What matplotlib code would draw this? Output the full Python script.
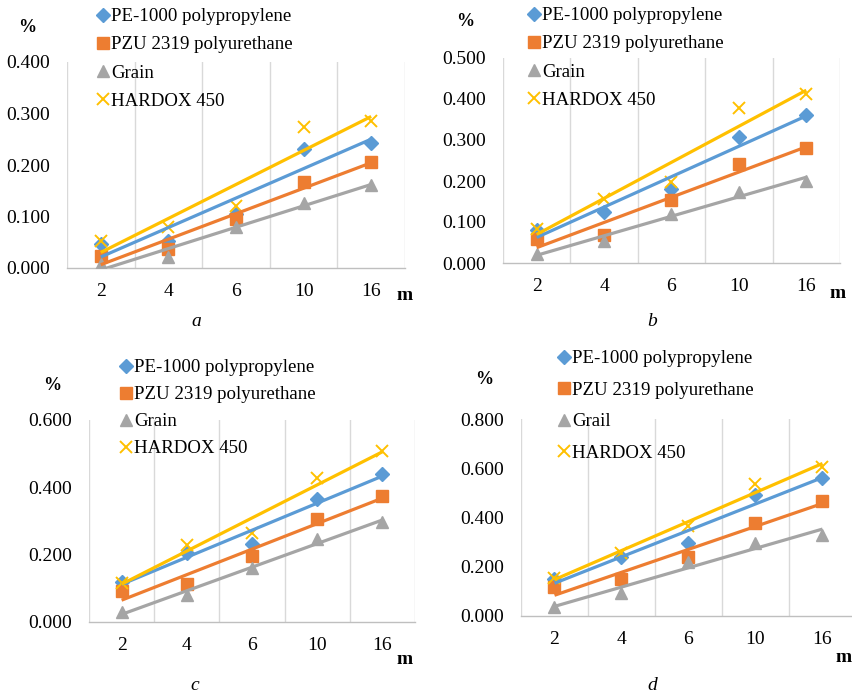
import numpy as np
import matplotlib
matplotlib.use("Agg")
import matplotlib.pyplot as plt
from matplotlib.lines import Line2D
from matplotlib import font_manager

plt.rcParams['font.family'] = 'serif'
plt.rcParams['font.serif'] = ['Liberation Serif', 'Times New Roman', 'DejaVu Serif']

categories = ["2", "4", "6", "10", "16"]
series_names = ["PE-1000 polypropylene", "PZU 2319 polyurethane", "Grain", "HARDOX 450"]
series_names_d = ["PE-1000 polypropylene", "PZU 2319 polyurethane", "Grail", "HARDOX 450"]

# panel a
a_pe = [0.047, 0.052, 0.105, 0.232, 0.243]
a_pzu = [0.023, 0.036, 0.096, 0.167, 0.205]
a_grain = [0.007, 0.021, 0.080, 0.126, 0.162]
a_hardox = [0.052, 0.080, 0.120, 0.274, 0.285]
# panel b
b_pe = [0.081, 0.124, 0.181, 0.307, 0.360]
b_pzu = [0.059, 0.068, 0.154, 0.241, 0.280]
b_grain = [0.023, 0.053, 0.120, 0.173, 0.201]
b_hardox = [0.083, 0.157, 0.198, 0.378, 0.412]
# panel c
c_pe = [0.119, 0.205, 0.233, 0.365, 0.441]
c_pzu = [0.092, 0.114, 0.195, 0.306, 0.375]
c_grain = [0.030, 0.079, 0.161, 0.248, 0.296]
c_hardox = [0.117, 0.228, 0.263, 0.429, 0.508]
# panel d
d_pe = [0.149, 0.241, 0.296, 0.492, 0.560]
d_pzu = [0.117, 0.149, 0.241, 0.377, 0.469]
d_grain = [0.038, 0.095, 0.221, 0.296, 0.330]
d_hardox = [0.156, 0.255, 0.366, 0.536, 0.605]

y_ticks_a = [0.0, 0.1, 0.2, 0.3, 0.4]
y_ticks_b = [0.0, 0.1, 0.2, 0.3, 0.4, 0.5]
y_ticks_c = [0.0, 0.2, 0.4, 0.6]
y_ticks_d = [0.0, 0.2, 0.4, 0.6, 0.8]

colors = ["#5B9BD5", "#ED7D31", "#A5A5A5", "#FFC000"]
markers = ["D", "s", "^", "x"]
msizes = [7, 8.5, 9, 9]


def find_file(weight='normal', style='normal'):
    try:
        return font_manager.findfont(
            font_manager.FontProperties(family='Liberation Serif', weight=weight, style=style),
            fallback_to_default=False)
    except Exception:
        return None


FILES = {
    ('normal', 'normal'): find_file(),
    ('bold', 'normal'): find_file(weight='bold'),
    ('normal', 'italic'): find_file(style='italic'),
}


def fprop(size, weight='normal', style='normal'):
    f = FILES.get((weight, style))
    if f:
        return font_manager.FontProperties(fname=f, size=size)
    return font_manager.FontProperties(family='serif', size=size, weight=weight, style=style)


W, H = 853, 694
fig = plt.figure(figsize=(W / 100, H / 100), dpi=100)


def px_axes(left, top, right, bottom):
    return fig.add_axes([left / W, 1 - bottom / H, (right - left) / W, (bottom - top) / H])


def panel(box, data, names, yticks, pct_xy, m_xy, letter, letter_xy, leg_xy, lspace):
    ax = px_axes(*box)
    x = np.arange(1, len(categories) + 1)
    for i, y in enumerate(data):
        kw = dict(color=colors[i], marker=markers[i], ms=msizes[i], ls='none', zorder=3)
        if markers[i] == 'x':
            kw['mew'] = 1.4
        else:
            kw['mec'] = colors[i]
        ax.plot(x, y, **kw)
    for i, y in enumerate(data):
        k, b = np.polyfit(x, y, 1)
        ax.plot([x[0], x[-1]], [k * x[0] + b, k * x[-1] + b], color=colors[i], lw=2.3,
                zorder=4, solid_capstyle='butt')
    ax.set_xlim(0.5, len(categories) + 0.5)
    ax.set_ylim(yticks[0], yticks[-1])
    ax.set_yticks(yticks)
    ax.set_yticklabels([f"{t:.3f}" for t in yticks], fontproperties=fprop(14))
    ax.set_xticks(x)
    ax.set_xticklabels(categories, fontproperties=fprop(14))
    for g in np.arange(0.5, len(categories) + 1.0, 1.0):
        ax.axvline(g, color="#D9D9D9", lw=1.0, zorder=1)
    for s in ['top', 'right', 'left']:
        ax.spines[s].set_visible(False)
    ax.spines['bottom'].set_color("#BFBFBF")
    ax.spines['bottom'].set_linewidth(1.0)
    ax.tick_params(axis='both', length=0)
    ax.tick_params(axis='y', pad=12)
    ax.tick_params(axis='x', pad=11)
    ax.set_facecolor('none')
    handles = []
    for i in range(4):
        kw = dict(color=colors[i], marker=markers[i], ms=msizes[i], ls='none')
        if markers[i] == 'x':
            kw['mew'] = 1.4
        handles.append(Line2D([], [], **kw))
    fig.legend(handles, names, loc='upper left',
               bbox_to_anchor=(leg_xy[0] / W, 1 - leg_xy[1] / H),
               frameon=False, prop=fprop(13.6), handlelength=0.8, handletextpad=0.05,
               labelspacing=lspace, borderaxespad=0, borderpad=0)
    fig.text(pct_xy[0] / W, 1 - pct_xy[1] / H, "%", fontproperties=fprop(13, weight='bold'),
             ha='center', va='center')
    fig.text(m_xy[0] / W, 1 - m_xy[1] / H, "m", fontproperties=fprop(14, weight='bold'),
             ha='center', va='center')
    fig.text(letter_xy[0] / W, 1 - letter_xy[1] / H, letter,
             fontproperties=fprop(14, style='italic'), ha='center', va='center')
    return ax


panel((67, 62, 405, 268), [a_pe, a_pzu, a_grain, a_hardox], series_names, y_ticks_a,
      (27, 27), (405, 295), "a", (196, 322), (95, 8), 0.58)
panel((503, 58, 840, 263), [b_pe, b_pzu, b_grain, b_hardox], series_names, y_ticks_b,
      (465, 22), (838, 293), "b", (652, 322), (526, 7), 0.58)
panel((89, 420, 415, 622), [c_pe, c_pzu, c_grain, c_hardox], series_names, y_ticks_c,
      (52, 385), (405, 660), "c", (195, 685), (118, 359), 0.52)
panel((521, 419, 856, 616), [d_pe, d_pzu, d_grain, d_hardox], series_names_d, y_ticks_d,
      (484, 380), (844, 658), "d", (652, 685), (556, 350), 0.76)

fig.savefig("out.png", dpi=100)
